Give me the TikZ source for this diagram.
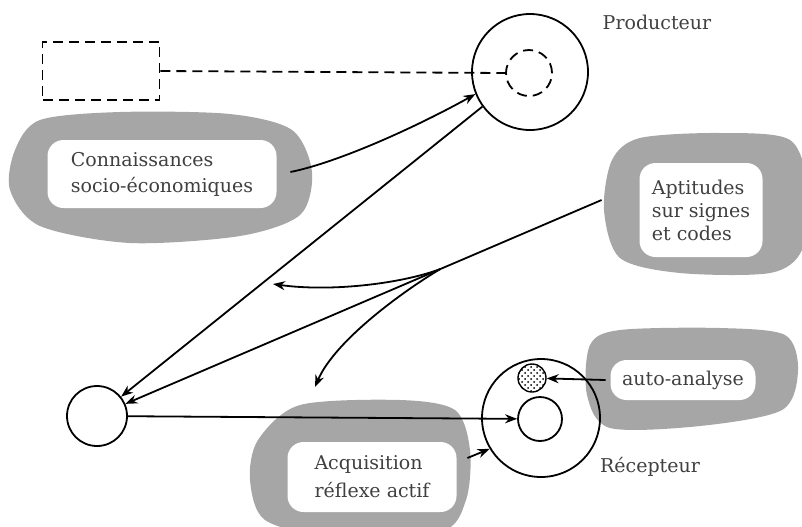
\documentclass[tikz,border=0pt]{standalone}
\usepackage{fontspec}
\setmainfont{DejaVu Serif}
\usetikzlibrary{arrows.meta,shapes,positioning,calc,patterns}

\begin{document}
\begin{tikzpicture}[x=0.5pt, y=-0.5pt, >={Stealth[length=6pt,width=4.5pt]}, line width=0.9pt,
    blob/.style={fill=black!35},
    txtbox/.style={fill=white, rounded corners=8pt, inner sep=0pt, align=left, text=black!75,
        font=\fontsize{9.5}{13}\selectfont},
    ring/.style={circle, draw, inner sep=0pt},
    dash line/.style={dash pattern=on 5pt off 3pt}]
    \useasboundingbox (0,0) rectangle (802,526);

    % grey clouds behind the text boxes
    \fill[blob] plot[smooth cycle] coordinates {(15,150) (40,120) (120,112) (230,114) (292,130) (312,172) (300,215) (240,236) (130,243) (40,226) (10,190)};
    \fill[blob] plot[smooth cycle] coordinates {(612,160) (640,138) (720,133) (790,140) (808,190) (802,250) (770,273) (680,273) (620,258) (604,210)};
    \fill[blob] plot[smooth cycle] coordinates {(590,345) (620,330) (720,328) (785,335) (798,370) (782,410) (700,426) (610,428) (587,395)};
    \fill[blob] plot[smooth cycle] coordinates {(258,440) (300,405) (400,400) (455,410) (470,450) (466,500) (440,532) (330,536) (265,520) (250,480)};

    % producteur side
    \node[draw, dash line, minimum width=58.5pt, minimum height=29pt] (source) at (101,71) {};
    \node[ring, minimum size=58pt] (prod) at (530,72) {};
    \node[ring, dash line, minimum size=23pt] (prodin) at (529,73) {};
    \node[text=black!75, font=\fontsize{9.5}{12}\selectfont] (plab) at (657,22) {Producteur};
    \draw[dash line] (source.east) -- (prodin.west);

    % text boxes
    \node[txtbox, minimum width=114.5pt, minimum height=34pt] (conn) at (162,174) {Connaissances\\socio-économiques};
    \node[txtbox, minimum width=61.5pt, minimum height=47pt, font=\fontsize{9.5}{11.5}\selectfont] (apt) at (701,210) {Aptitudes\\sur signes\\et codes};
    \node[txtbox, minimum width=72.5pt, minimum height=20pt] (auto) at (683,380) {auto-analyse};
    \node[txtbox, minimum width=84.5pt, minimum height=35pt, font=\fontsize{9.5}{14}\selectfont] (acq) at (372,477) {Acquisition\\réflexe actif};

    % emetteur and recepteur
    \node[ring, minimum size=30pt] (emit) at (97,416) {};
    \node[ring, minimum size=59pt] (rec) at (541,418) {};
    \node[ring, minimum size=22pt] (recin) at (540,419) {};
    \node[ring, minimum size=14pt, pattern=crosshatch dots, line width=0.7pt] (recdot) at (532,378) {};
    \node[text=black!75, font=\fontsize{9.5}{12}\selectfont] (rlab) at (650,467) {Récepteur};

    % connectors
    \draw[->] ([xshift=6.5pt,yshift=1pt]conn.east) .. controls (340,162) and (420,125) .. (prod.202);
    \draw[->] (prod.216) -- (emit);
    \coordinate (aptout) at ([xshift=-18.5pt,yshift=5pt]apt.west);
    \coordinate (fan) at ($(aptout)!0.32!(emit)$);
    \coordinate (lefttip) at (273,284);
    \coordinate (downtip) at (315,387);
    \draw[->] (aptout) -- (emit);
    \draw[->] (fan) .. controls (400,284) and (330,292) .. (lefttip);
    \draw[->] (fan) .. controls (405,290) and (335,340) .. (downtip);
    \draw[->] (emit) -- (recin);
    \draw[->] ([xshift=-2pt]auto.west) -- (recdot);
    \draw[->] ([xshift=5pt,yshift=9.5pt]acq.east) -- (rec.211);
\end{tikzpicture}
\end{document}
